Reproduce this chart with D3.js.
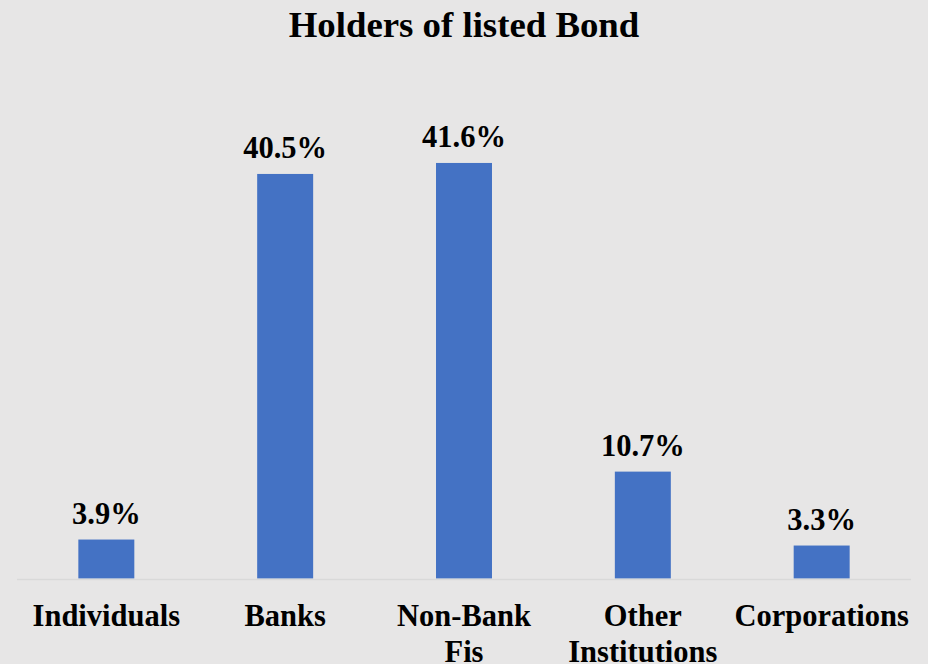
<!DOCTYPE html>
<html>
<head>
<meta charset="utf-8">
<script src="https://d3js.org/d3.v7.min.js"></script>
<style>
  body { margin: 0; background: #e7e6e6; }
</style>
</head>
<body>
<div class="vis"></div>
<script>
    var categories = ["Individuals", "Banks", "Non-Bank Fis", "Other Institutions", "Corporations"];
    var labelLines = [["Individuals"], ["Banks"], ["Non-Bank", "Fis"], ["Other", "Institutions"], ["Corporations"]];
    var shares = [3.9, 40.5, 41.6, 10.7, 3.3];

    var width = 928, height = 664;
    var margin = { top: 129, right: 17, bottom: 85, left: 17 };
    var font = "'Liberation Serif', 'Times New Roman', serif";

    var svg = d3.select(".vis")
        .append("svg")
        .attr("width", width)
        .attr("height", height)
        .attr("viewBox", [0, 0, width, height]);

    svg.append("rect")
        .attr("width", width)
        .attr("height", height)
        .attr("fill", "#e7e6e6");

    var x = d3.scaleBand()
        .domain(categories)
        .range([margin.left, width - margin.right])
        .paddingInner(0.687)
        .paddingOuter(0.343);

    var y = d3.scaleLinear()
        .domain([0, 45])
        .range([height - margin.bottom - 0.5, margin.top]);

    // title
    svg.append("text")
        .attr("x", 464)
        .attr("y", 37)
        .attr("text-anchor", "middle")
        .attr("font-family", font)
        .attr("font-weight", "bold")
        .attr("font-size", 36.8)
        .attr("fill", "#000")
        .text("Holders of listed Bond");

    // bars
    svg.append("g")
        .selectAll("rect")
        .data(shares)
        .join("rect")
        .attr("x", (d, i) => x(categories[i]))
        .attr("y", d => y(d))
        .attr("width", x.bandwidth())
        .attr("height", d => y(0) - y(d))
        .attr("fill", "#4472c4");

    // baseline
    svg.append("line")
        .attr("x1", margin.left)
        .attr("x2", width - margin.right)
        .attr("y1", y(0) + 1)
        .attr("y2", y(0) + 1)
        .attr("stroke", "#d9d9d9")
        .attr("stroke-width", 1.5);

    // value labels
    svg.append("g")
        .selectAll("text")
        .data(shares)
        .join("text")
        .attr("x", (d, i) => x(categories[i]) + x.bandwidth() / 2)
        .attr("y", d => y(d) - 16)
        .attr("text-anchor", "middle")
        .attr("font-family", font)
        .attr("font-weight", "bold")
        .attr("font-size", 30.5)
        .attr("fill", "#000")
        .text(d => d.toFixed(1) + "%");

    // category labels
    var lab = svg.append("g")
        .selectAll("text")
        .data(categories)
        .join("text")
        .attr("x", d => x(d) + x.bandwidth() / 2)
        .attr("y", 626)
        .attr("text-anchor", "middle")
        .attr("font-family", font)
        .attr("font-weight", "bold")
        .attr("font-size", 30.5)
        .attr("fill", "#000");

    lab.selectAll("tspan")
        .data((d, i) => labelLines[i])
        .join("tspan")
        .attr("x", function () { return this.parentNode.getAttribute("x"); })
        .attr("dy", (d, i) => i === 0 ? 0 : 36)
        .text(d => d);
</script>
</body>
</html>
